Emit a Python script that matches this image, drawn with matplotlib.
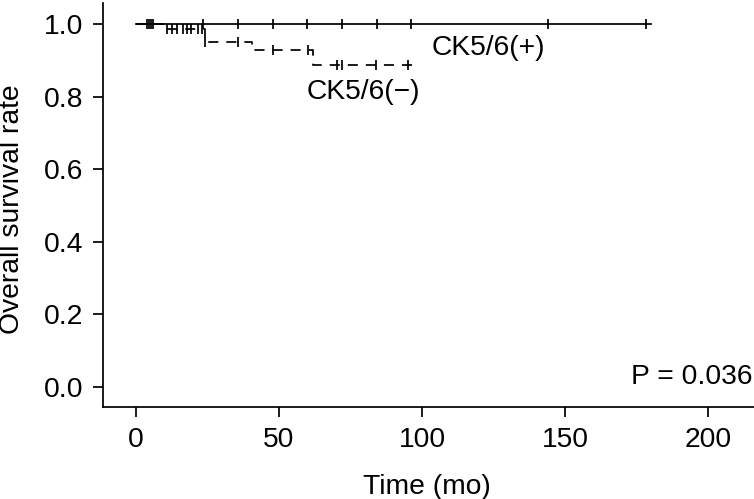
"""
Kaplan-Meier style overall survival by CK5/6 status
"""

import numpy as np
import matplotlib
matplotlib.use("Agg")
import matplotlib.pyplot as plt

plt.rcParams['font.family'] = ['Liberation Sans', 'DejaVu Sans']

# CK5/6(+) : no events, flat at 1.0
pos_times = [0, 180]
pos_surv = [1.0, 1.0]
pos_censor = [4.0, 4.7, 5.4, 6.1, 23.4, 35.7, 47.9, 59.8, 72.0, 84.2, 96.0, 144.0, 178.3]

# CK5/6(-) : step curve
neg_times = [0, 10.0, 24.0, 40.5, 61.8, 99.0]
neg_surv = [1.0, 0.986, 0.950, 0.928, 0.888, 0.888]
neg_censor = [10.8, 12.6, 14.3, 16.4, 17.8, 19.2, 21.7, 23.1,
              24.3, 35.7, 48.0, 60.0, 70.3, 72.0, 84.0, 95.0]

xticks = [0, 50, 100, 150, 200]
yticks = [0.0, 0.2, 0.4, 0.6, 0.8, 1.0]


def surv_at(times, surv, t):
    idx = np.searchsorted(times, t, side='right') - 1
    return np.asarray(surv)[idx]


fig = plt.figure(figsize=(7.54, 4.99), dpi=100)
ax = fig.add_axes([103 / 754, 92 / 499, 651 / 754, 404 / 499])

fs = 20.3
lw = 1.25

ax.step(pos_times, pos_surv, where='post', color='black', lw=lw)
ax.plot(pos_censor, surv_at(pos_times, pos_surv, pos_censor), ls='none',
        marker='|', ms=6.5, mew=lw, color='black')

ax.step(neg_times, neg_surv, where='post', color='black', lw=lw,
        linestyle=(0, (5.8, 4.6)))
ax.plot(neg_censor, surv_at(neg_times, neg_surv, neg_censor), ls='none',
        marker='|', ms=6.5, mew=lw, color='black')

ax.text(103.5, 0.934, "CK5/6(+)", fontsize=fs, va='center', ha='left')
ax.text(59.8, 0.813, "CK5/6(\u2212)", fontsize=fs, va='center', ha='left')
ax.text(0.998, 0.074, "P = 0.036", fontsize=fs,
        va='center', ha='right', transform=ax.transAxes)

ax.set_xlim(-11.54, 216.1)
ax.set_ylim(-0.055, 1.058)
ax.set_xticks(xticks)
ax.set_yticks(yticks)
ax.set_yticklabels([f"{v:.1f}" for v in yticks])
ax.tick_params(labelsize=fs, length=7.2, width=lw, pad=7)
for side in ['top', 'right']:
    ax.spines[side].set_visible(False)
for side in ['left', 'bottom']:
    ax.spines[side].set_linewidth(lw)

ax.set_xlabel("Time (mo)", fontsize=fs)
ax.set_ylabel("Overall survival rate", fontsize=fs)
ax.xaxis.set_label_coords(0.498, -0.165)
ax.yaxis.set_label_coords(-0.12, 0.49)

fig.savefig("out.png", dpi=100)
